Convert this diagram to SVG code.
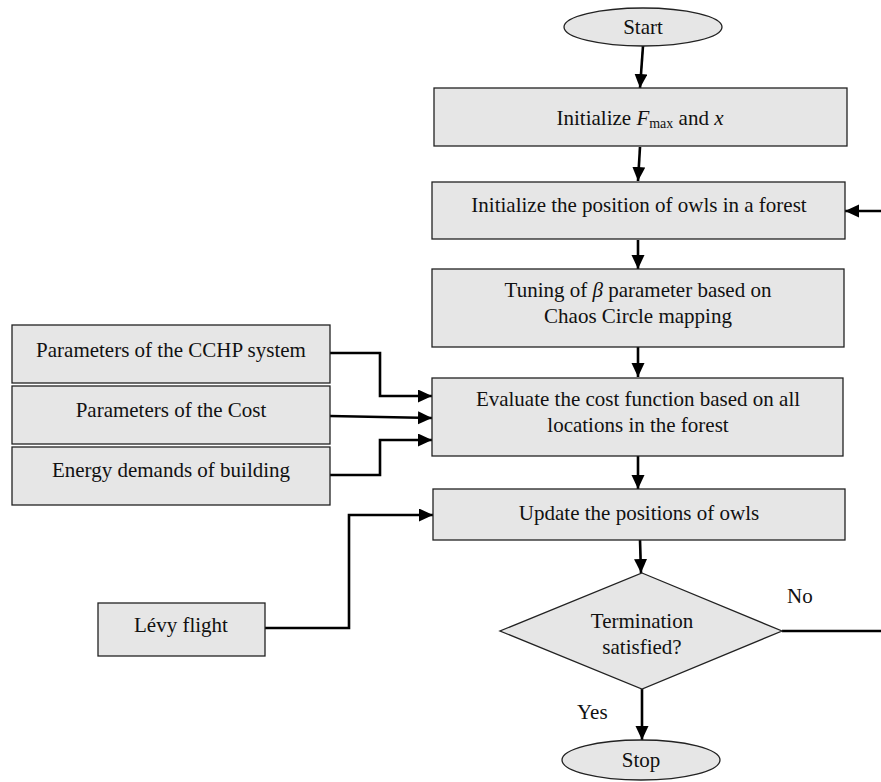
<svg xmlns="http://www.w3.org/2000/svg" width="881" height="782" viewBox="0 0 881 782">
<style>
.box{fill:#e6e6e6;stroke:#222;stroke-width:1.3}
.t{font-family:"Liberation Serif","Times New Roman",serif;font-size:21px;fill:#111;text-anchor:middle}
.tl{font-family:"Liberation Serif","Times New Roman",serif;font-size:21px;fill:#111}
.c{fill:none;stroke:#000;stroke-width:2.6}
</style>
<defs>
<marker id="ah" markerUnits="userSpaceOnUse" markerWidth="15" markerHeight="14" refX="14" refY="6.5" orient="auto">
<path d="M0,0 L14,6.5 L0,13 z" fill="#000"/>
</marker>
</defs>
<rect width="881" height="782" fill="#fff"/>

<g id="connectors">
<path class="c" d="M643,46 L640,88" marker-end="url(#ah)"/>
<path class="c" d="M640,147 L638,181" marker-end="url(#ah)"/>
<path class="c" d="M881,211 L845,211" marker-end="url(#ah)"/>
<path class="c" d="M638,240 L638,269" marker-end="url(#ah)"/>
<path class="c" d="M638,347 L638,377" marker-end="url(#ah)"/>
<path class="c" d="M330,353 L380,353 L380,396 L432,396" marker-end="url(#ah)"/>
<path class="c" d="M330,416 L432,418" marker-end="url(#ah)"/>
<path class="c" d="M330,475 L380,475 L380,440 L432,440" marker-end="url(#ah)"/>
<path class="c" d="M638,456 L638,489" marker-end="url(#ah)"/>
<path class="c" d="M265,628 L349,628 L349,515 L433,515" marker-end="url(#ah)"/>
<path class="c" d="M640,540 L641,573" marker-end="url(#ah)"/>
<path class="c" d="M782,631 L881,631"/>
<path class="c" d="M642,689 L642,740" marker-end="url(#ah)"/>
</g>

<g id="start">
<ellipse class="box" cx="643" cy="27" rx="79" ry="19"/>
<text class="t" x="643" y="34">Start</text>
</g>

<g id="init-fmax">
<rect class="box" x="434" y="88" width="413" height="58"/>
<text class="t" x="640" y="125">Initialize <tspan font-style="italic">F</tspan><tspan font-size="14" dy="3">max</tspan><tspan dy="-3"> and </tspan><tspan font-style="italic">x</tspan></text>
</g>

<g id="init-position">
<rect class="box" x="432" y="182" width="413" height="57"/>
<text class="t" x="639" y="212">Initialize the position of owls in a forest</text>
</g>

<g id="tuning">
<rect class="box" x="432" y="269" width="412" height="78"/>
<text class="t" x="638" y="297">Tuning of <tspan font-style="italic">β</tspan> parameter based on</text>
<text class="t" x="638" y="323">Chaos Circle mapping</text>
</g>

<g id="evaluate">
<rect class="box" x="432" y="378" width="411" height="78"/>
<text class="t" x="638" y="406">Evaluate the cost function based on all</text>
<text class="t" x="638" y="432">locations in the forest</text>
</g>

<g id="cchp">
<rect class="box" x="12" y="325" width="318" height="58"/>
<text class="t" x="171" y="357">Parameters of the CCHP system</text>
</g>

<g id="cost">
<rect class="box" x="12" y="386" width="318" height="58"/>
<text class="t" x="171" y="417">Parameters of the Cost</text>
</g>

<g id="energy">
<rect class="box" x="12" y="447" width="318" height="58"/>
<text class="t" x="171" y="477">Energy demands of building</text>
</g>

<g id="update">
<rect class="box" x="433" y="489" width="412" height="51"/>
<text class="t" x="639" y="520">Update the positions of owls</text>
</g>

<g id="levy">
<rect class="box" x="98" y="603" width="167" height="53"/>
<text class="t" x="181" y="632">Lévy flight</text>
</g>

<g id="termination">
<polygon class="box" points="642,573 782,631 642,689 500,631"/>
<text class="t" x="642" y="628">Termination</text>
<text class="t" x="642" y="654">satisfied?</text>
</g>

<text class="tl" x="787" y="603">No</text>
<text class="tl" x="577" y="719">Yes</text>

<g id="stop">
<ellipse class="box" cx="641" cy="760" rx="79" ry="20"/>
<text class="t" x="641" y="767">Stop</text>
</g>
</svg>
